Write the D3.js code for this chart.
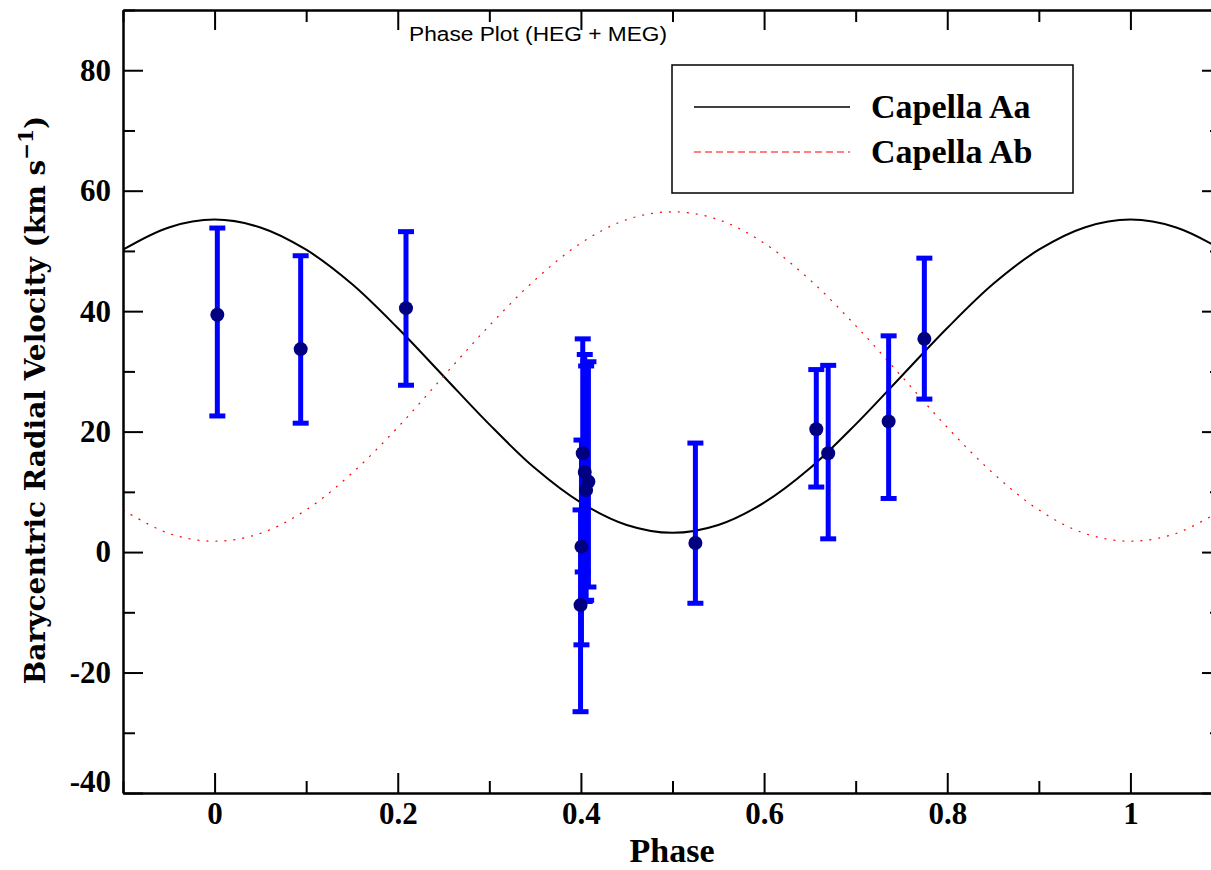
<!DOCTYPE html>
<html>
<head>
<meta charset="utf-8">
<script src="https://cdn.jsdelivr.net/npm/d3@7"></script>
<style>
  body { margin: 0; background: #fff; }
  svg { display: block; }
</style>
</head>
<body>
<div id="chart"></div>
<script>
// measured points (phase, velocity, error bar ends)
const obsPhase = [0.003, 0.094, 0.209, 0.3996, 0.4006, 0.402, 0.4042, 0.4057, 0.4082, 0.525, 0.657, 0.670, 0.736, 0.775];
const obsVel   = [39.4, 33.7, 40.5, -8.8, 0.9, 16.4, 13.3, 10.3, 11.7, 1.5, 20.4, 16.4, 21.7, 35.4];
const obsLo    = [22.6, 21.4, 27.7, -26.5, -15.4, -3.3, -8.2, -8.0, -5.8, -8.5, 10.8, 2.2, 8.9, 25.4];
const obsHi    = [53.8, 49.2, 53.2, 7.0, 18.6, 35.4, 32.8, 30.9, 31.6, 18.1, 30.3, 31.0, 35.9, 48.8];

// model curves
const curvePhase = [-0.1, -0.05, 0, 0.05, 0.1, 0.15, 0.2, 0.25, 0.3, 0.35, 0.4, 0.45, 0.5,
                    0.55, 0.6, 0.65, 0.7, 0.75, 0.8, 0.85, 0.9, 0.95, 1.0, 1.05, 1.1];
const aaVel = [50.2, 53.9, 55.2, 53.9, 50.2, 44.5, 37.2, 29.2, 21.2, 13.9, 8.2, 4.5, 3.2,
               4.5, 8.2, 13.9, 21.2, 29.2, 37.2, 44.5, 50.2, 53.9, 55.2, 53.9, 50.2];
const abVel = [7.0, 3.1, 1.8, 3.1, 7.0, 13.1, 20.7, 29.2, 37.6, 45.2, 51.3, 55.2, 56.5,
               55.2, 51.3, 45.2, 37.6, 29.2, 20.7, 13.1, 7.0, 3.1, 1.8, 3.1, 7.0];

const xMajor = [0, 0.2, 0.4, 0.6, 0.8, 1];
const xMinor = [-0.1, 0.1, 0.3, 0.5, 0.7, 0.9, 1.1];
const yMajor = [-40, -20, 0, 20, 40, 60, 80];
const yMinor = [-30, -10, 10, 30, 50, 70, 90];

const seriesNames = ["Capella Aa", "Capella Ab"];

const width = 1211, height = 870;
const margin = { top: 10, right: -11, bottom: 77, left: 123 };
const innerW = width - margin.left - margin.right;
const innerH = height - margin.top - margin.bottom;

const serif = "'Liberation Serif', 'DejaVu Serif', serif";
const wideSerif = "'DejaVu Serif', serif";

const svg = d3.select("#chart").append("svg")
  .attr("width", width)
  .attr("height", height);

const chart = svg.append("g")
  .attr("transform", `translate(${margin.left},${margin.top})`);

const x = d3.scaleLinear().domain([-0.1, 1.1]).range([0, innerW]);
const y = d3.scaleLinear().domain([-40, 90]).range([innerH, 0]);

// curves
const line = d3.line().curve(d3.curveCatmullRom);

chart.append("path")
  .attr("d", line(curvePhase.map((p, i) => [x(p), y(aaVel[i])])))
  .attr("fill", "none")
  .attr("stroke", "#000")
  .attr("stroke-width", 2);

chart.append("path")
  .attr("d", line(curvePhase.map((p, i) => [x(p), y(abVel[i])])))
  .attr("fill", "none")
  .attr("stroke", "#ff0000")
  .attr("stroke-width", 1.2)
  .attr("stroke-dasharray", "2,7");

// error bars
const obs = obsPhase.map((p, i) => ({ p, v: obsVel[i], lo: obsLo[i], hi: obsHi[i] }));
const bars = chart.append("g").attr("stroke", "#0000ff").attr("stroke-width", 5);
obs.forEach(d => {
  bars.append("line")
    .attr("x1", x(d.p)).attr("x2", x(d.p))
    .attr("y1", y(d.lo)).attr("y2", y(d.hi));
  [d.lo, d.hi].forEach(e => {
    bars.append("line")
      .attr("x1", x(d.p) - 8).attr("x2", x(d.p) + 8)
      .attr("y1", y(e)).attr("y2", y(e));
  });
});

chart.append("g").selectAll("circle")
  .data(obs)
  .enter()
  .append("circle")
  .attr("cx", d => x(d.p))
  .attr("cy", d => y(d.v))
  .attr("r", 7)
  .attr("fill", "#000080");

// axes
function styleAxis(g) {
  g.select(".domain").attr("stroke-width", 2.5);
  g.selectAll(".tick line").attr("stroke-width", 2);
  g.selectAll("text")
    .attr("font-family", serif)
    .attr("font-weight", "bold")
    .attr("font-size", 31)
    .attr("fill", "#000");
}

chart.append("g")
  .attr("transform", `translate(0,${innerH})`)
  .call(d3.axisBottom(x).tickValues(xMajor).tickFormat(d3.format("~g")).tickSizeInner(-20).tickSizeOuter(0).tickPadding(9))
  .call(styleAxis);
chart.append("g")
  .attr("transform", `translate(0,${innerH})`)
  .call(d3.axisBottom(x).tickValues(xMinor).tickFormat("").tickSizeInner(-12).tickSizeOuter(0))
  .call(g => g.select(".domain").remove())
  .call(styleAxis);

chart.append("g")
  .call(d3.axisTop(x).tickValues(xMajor).tickFormat("").tickSizeInner(-20).tickSizeOuter(0))
  .call(styleAxis);
chart.append("g")
  .call(d3.axisTop(x).tickValues(xMinor).tickFormat("").tickSizeInner(-12).tickSizeOuter(0))
  .call(g => g.select(".domain").remove())
  .call(styleAxis);

const left = chart.append("g")
  .call(d3.axisLeft(y).tickValues(yMajor).tickFormat(d => String(d)).tickSizeInner(-20).tickSizeOuter(0).tickPadding(12))
  .call(styleAxis);
left.selectAll(".tick text").filter(d => d === -40).attr("dy", "-0.05em");
chart.append("g")
  .call(d3.axisLeft(y).tickValues(yMinor).tickFormat("").tickSizeInner(-12).tickSizeOuter(0))
  .call(g => g.select(".domain").remove())
  .call(styleAxis);

chart.append("g")
  .attr("transform", `translate(${innerW},0)`)
  .call(d3.axisRight(y).tickValues(yMajor).tickFormat("").tickSizeInner(-20).tickSizeOuter(0))
  .call(styleAxis);
chart.append("g")
  .attr("transform", `translate(${innerW},0)`)
  .call(d3.axisRight(y).tickValues(yMinor).tickFormat("").tickSizeInner(-12).tickSizeOuter(0))
  .call(g => g.select(".domain").remove())
  .call(styleAxis);

// axis labels
svg.append("text")
  .attr("x", 672)
  .attr("y", 862)
  .attr("text-anchor", "middle")
  .attr("font-family", serif)
  .attr("font-weight", "bold")
  .attr("font-size", 34)
  .text("Phase");

const yLab = svg.append("text")
  .attr("transform", `translate(45,400) rotate(-90)`)
  .attr("text-anchor", "middle")
  .attr("font-family", wideSerif)
  .attr("font-weight", "bold")
  .attr("font-size", 28);
yLab.append("tspan").text("Barycentric Radial Velocity (km s");
yLab.append("tspan").attr("dy", -12).attr("font-size", 20).text("\u22121");
yLab.append("tspan").attr("dy", 12).text(")");

// title
svg.append("text")
  .attr("x", 538)
  .attr("y", 41)
  .attr("text-anchor", "middle")
  .attr("font-family", "'Liberation Sans', Arial, sans-serif")
  .attr("font-size", 20)
  .attr("textLength", 258)
  .attr("lengthAdjust", "spacingAndGlyphs")
  .text("Phase Plot (HEG + MEG)");

// legend
const legend = svg.append("g").attr("transform", "translate(672,65)");
legend.append("rect")
  .attr("width", 401).attr("height", 128)
  .attr("fill", "#fff").attr("stroke", "#000").attr("stroke-width", 1.5);
const legStyles = [
  { stroke: "#000", dash: null, w: 1.5 },
  { stroke: "#ff0000", dash: "7,4", w: 1.2 }
];
seriesNames.forEach((name, i) => {
  const ly = 42 + i * 45;
  legend.append("line")
    .attr("x1", 22).attr("x2", 178)
    .attr("y1", ly).attr("y2", ly)
    .attr("stroke", legStyles[i].stroke)
    .attr("stroke-width", legStyles[i].w)
    .attr("stroke-dasharray", legStyles[i].dash);
  legend.append("text")
    .attr("x", 199)
    .attr("y", ly + 11)
    .attr("font-family", serif)
    .attr("font-weight", "bold")
    .attr("font-size", 34)
    .text(name);
});
</script>
</body>
</html>
